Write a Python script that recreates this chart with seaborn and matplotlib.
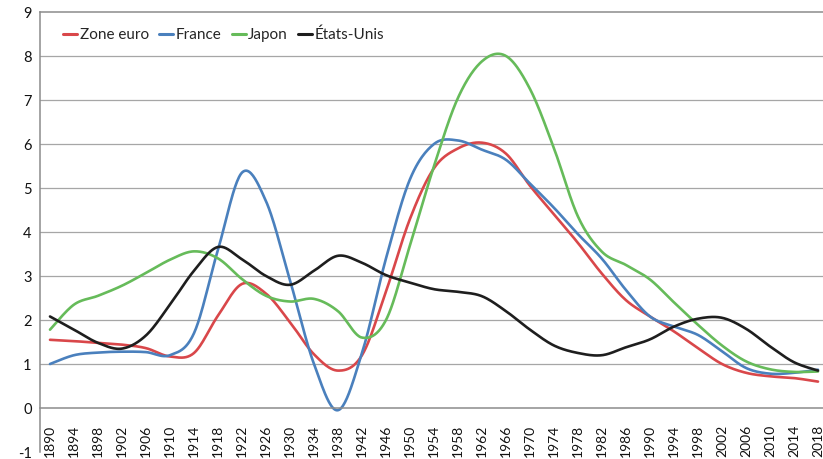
import numpy as np
import pandas as pd
import matplotlib
matplotlib.use("Agg")
import matplotlib.pyplot as plt
import seaborn as sns

# Annual series, one value every four years (1890-2018)
years = list(range(1890, 2019, 4))

zone_euro = [1.55, 1.52, 1.48, 1.44, 1.36, 1.17, 1.25, 2.10, 2.82, 2.60, 1.95,
             1.22, 0.85, 1.20, 2.65, 4.30, 5.45, 5.90, 6.03, 5.78, 5.05, 4.40,
             3.75, 3.05, 2.45, 2.08, 1.74, 1.36, 1.00, 0.80, 0.72, 0.68, 0.60]

france = [1.00, 1.20, 1.26, 1.28, 1.27, 1.20, 1.70, 3.60, 5.35, 4.70, 2.90,
          1.00, -0.05, 1.25, 3.40, 5.20, 6.00, 6.08, 5.87, 5.64, 5.10, 4.55,
          3.95, 3.39, 2.68, 2.08, 1.85, 1.66, 1.29, 0.91, 0.78, 0.80, 0.87]

japon = [1.78, 2.35, 2.55, 2.78, 3.07, 3.37, 3.56, 3.40, 2.93, 2.55, 2.42,
         2.48, 2.20, 1.60, 2.00, 3.70, 5.50, 7.05, 7.88, 8.00, 7.25, 5.90,
         4.35, 3.55, 3.25, 2.92, 2.40, 1.89, 1.42, 1.06, 0.88, 0.82, 0.83]

etats_unis = [2.08, 1.78, 1.48, 1.35, 1.65, 2.35, 3.12, 3.66, 3.38, 3.00, 2.80,
              3.12, 3.46, 3.30, 3.02, 2.85, 2.70, 2.64, 2.54, 2.20, 1.78, 1.42,
              1.25, 1.20, 1.38, 1.56, 1.85, 2.03, 2.05, 1.80, 1.40, 1.04, 0.85]

series_names = ["Zone euro", "France", "Japon", "États-Unis"]
series_values = [zone_euro, france, japon, etats_unis]
series_colors = ["#d9474a", "#4a80bd", "#66bb5a", "#1e1e1e"]

y_ticks = list(range(-1, 10))


def excel_smooth(x, y, steps=24):
    """Smoothed line through every point (cubic Bezier, tension 1/6)."""
    x = np.asarray(x, float)
    y = np.asarray(y, float)
    px = np.r_[x[0], x, x[-1]]
    py = np.r_[y[0], y, y[-1]]
    t = np.linspace(0.0, 1.0, steps, endpoint=False)
    b0 = (1 - t) ** 3
    b1 = 3 * (1 - t) ** 2 * t
    b2 = 3 * (1 - t) * t ** 2
    b3 = t ** 3
    xs, ys = [], []
    for j in range(1, len(x)):
        c1x = px[j] + (px[j + 1] - px[j - 1]) / 6
        c1y = py[j] + (py[j + 1] - py[j - 1]) / 6
        c2x = px[j + 1] - (px[j + 2] - px[j]) / 6
        c2y = py[j + 1] - (py[j + 2] - py[j]) / 6
        xs.append(b0 * px[j] + b1 * c1x + b2 * c2x + b3 * px[j + 1])
        ys.append(b0 * py[j] + b1 * c1y + b2 * c2y + b3 * py[j + 1])
    xs.append([x[-1]])
    ys.append([y[-1]])
    return np.concatenate(xs), np.concatenate(ys)


frames = []
for name, vals in zip(series_names, series_values):
    sx, sy = excel_smooth(years, vals)
    frames.append(pd.DataFrame({"année": sx, "taux": sy, "série": name}))
df = pd.concat(frames, ignore_index=True)

sns.set_style("white")
plt.rcParams["font.family"] = ["Lato", "DejaVu Sans"]
plt.rcParams["axes.unicode_minus"] = False

fig = plt.figure(figsize=(8.23, 4.59), dpi=100)
ax = fig.add_axes([40 / 823, 7 / 459, 783 / 823, 440 / 459])

for k in range(1, 9):
    ax.axhline(k, color="#a6a6a6", lw=0.9, zorder=0)

sns.lineplot(data=df, x="année", y="taux", hue="série", hue_order=series_names,
             palette=series_colors, sort=False, estimator=None, lw=1.9, ax=ax)

# horizontal axis crosses the vertical one at zero
ax.spines["bottom"].set_position(("data", 0))
for side in ["left", "top", "bottom"]:
    ax.spines[side].set_color("#8c8c8c")
    ax.spines[side].set_linewidth(1.1)
ax.spines["right"].set_visible(False)

ax.set_xlim(1890 - 10 / 6, 1890 + 773 / 6)
ax.set_ylim(-1, 9)
ax.set_yticks(y_ticks)
ax.set_yticklabels([str(v) for v in y_ticks])
ax.set_xticks(years)
ax.set_xticklabels([str(y) for y in years])
ax.set_xlabel("")
ax.set_ylabel("")

ax.tick_params(axis="x", length=0, pad=12, labelsize=10, labelcolor="#111111",
               labelrotation=90)
ax.tick_params(axis="y", length=0, pad=6, labelsize=10.5, labelcolor="#111111")

handles, labels = ax.get_legend_handles_labels()
ax.legend(handles, labels, loc="center left", bbox_to_anchor=(0.03, 0.948),
          ncol=4, frameon=False, fontsize=11, handlelength=0.9,
          handletextpad=0.15, columnspacing=0.7, borderpad=0, borderaxespad=0)
for line in ax.get_legend().get_lines():
    line.set_linewidth(2.2)

fig.savefig("out.png", dpi=100, facecolor="white")
